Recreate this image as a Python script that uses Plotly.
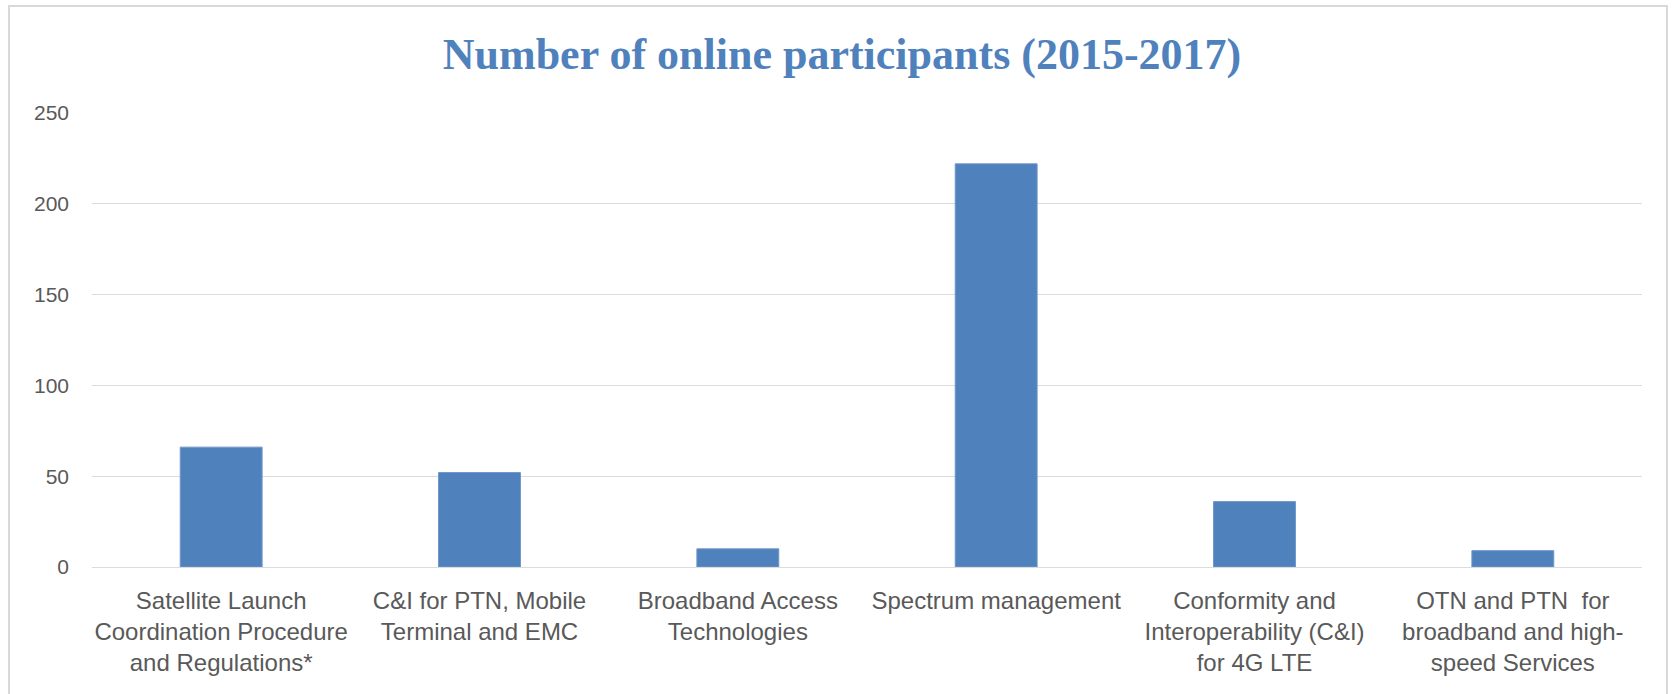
import plotly.graph_objects as go

categories = [
    "Satellite Launch<br>Coordination Procedure<br>and Regulations*",
    "C&I for PTN, Mobile<br>Terminal and EMC",
    "Broadband Access<br>Technologies",
    "Spectrum management",
    "Conformity and<br>Interoperability (C&I)<br>for 4G LTE",
    "OTN and PTN  for<br>broadband and high-<br>speed Services",
]
participants = [66, 52, 10, 222, 36, 9]
y_ticks = [0, 50, 100, 150, 200, 250]
title_text = "Number of online participants (2015-2017)"

W, H = 1674, 694
L, R, T, B = 92, 32, 113, 127

fig = go.Figure()
fig.add_trace(go.Bar(
    x=categories,
    y=participants,
    marker=dict(color="#4f81bd", line=dict(color="#6f96c9", width=1)),
    hoverinfo="x+y",
))

pw = W - L - R
ph = H - T - B
def px_x(p):
    return (p - L) / pw
def px_y(p):
    return (H - B - p) / ph

fig.add_shape(type="rect", xref="paper", yref="paper",
              x0=px_x(9), x1=px_x(1667), y0=px_y(720), y1=px_y(6),
              line=dict(color="#d9d9d9", width=2), fillcolor="rgba(0,0,0,0)",
              layer="below")

fig.update_layout(
    width=W, height=H,
    margin=dict(l=L, r=R, t=T, b=B, pad=0),
    paper_bgcolor="white",
    plot_bgcolor="white",
    showlegend=False,
    bargap=0.683,
    title=dict(
        text="<b>" + title_text + "</b>",
        font=dict(family="Liberation Serif", size=44, color="#4f81bd"),
        x=0.503, xref="container", xanchor="center",
        y=1 - 54 / H, yref="container", yanchor="middle",
    ),
    font=dict(family="Liberation Sans", size=24, color="#595959"),
    xaxis=dict(
        showgrid=False, showline=False, zeroline=False,
        ticks="", tickfont=dict(size=24, color="#595959"),
        ticklabelstandoff=17, fixedrange=True,
    ),
    yaxis=dict(
        range=[0, 250], tickvals=y_ticks,
        showgrid=True, gridcolor="#dcdcdc", gridwidth=1,
        zeroline=True, zerolinecolor="#dcdcdc", zerolinewidth=1,
        showline=False, ticks="",
        tickfont=dict(size=21, color="#595959"),
        ticklabelstandoff=22, fixedrange=True,
    ),
)

fig.write_html(
    "out.html",
    config={"displayModeBar": False},
    post_script="document.body.style.margin='0';document.body.style.overflow='hidden';",
)
